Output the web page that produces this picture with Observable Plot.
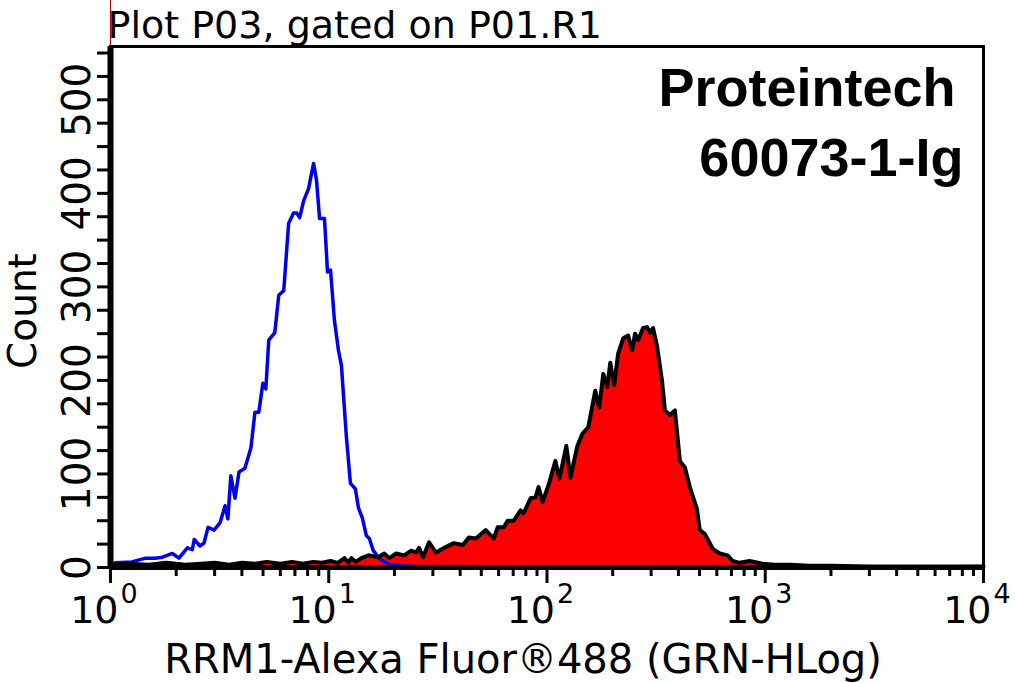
<!DOCTYPE html>
<html>
<head>
<meta charset="utf-8">
<script src="https://cdn.jsdelivr.net/npm/d3@7"></script>
<script src="https://cdn.jsdelivr.net/npm/@observablehq/plot@0.6"></script>
<style>
  html, body { margin: 0; padding: 0; background: #fff; }
  #chart svg { display: block; }
</style>
</head>
<body>
<div id="chart"></div>
<script>
// Control (isotype) histogram — blue outline
const blueX = [1.05, 1.25, 1.45, 1.6, 1.73, 1.92, 2.06, 2.25, 2.37, 2.42, 2.57, 2.68, 2.8, 2.98, 3.18, 3.35, 3.45, 3.56, 3.72, 3.88, 4.13, 4.4, 4.59, 4.78, 4.99, 5.15, 5.31, 5.66, 5.9, 6.22, 6.35, 6.55, 6.9, 7.13, 7.36, 7.67, 8.08, 8.52, 8.79, 9.08, 9.56, 9.87, 10.19, 10.62, 11.08, 11.43, 12.05, 12.57, 13.25, 13.67, 14.25, 14.87, 15.35, 16.0, 16.87, 17.4, 19, 25, 40, 100, 1000, 3000, 10000];
const blueCount = [5, 6, 10, 10, 11, 15, 10, 21, 19, 30, 23, 26, 43, 40, 48, 66, 52, 98, 74, 102, 106, 128, 166, 166, 197, 191, 243, 251, 291, 296, 325, 368, 379, 379, 374, 392, 405, 432, 414, 373, 373, 316, 318, 264, 232, 216, 139, 90, 84, 64, 53, 34, 31, 18, 11, 8, 3, 1, 1, 0, 1, 0, 1];

// RRM1 stained histogram — red fill, black outline
const redX = [1.0, 1.2, 1.5, 1.8, 2.2, 2.6, 3.0, 3.5, 4.0, 4.6, 5.2, 6.0, 6.8, 7.6, 8.5, 9.3, 10.2, 11.0, 11.8, 12.3, 12.7, 13.3, 14.11, 15.18, 16.87, 17.96, 18.93, 20.37, 22.16, 23.85, 25.13, 25.94, 27.05, 28.81, 31.0, 33.73, 37.46, 41.17, 43.85, 47.2, 52.43, 57.02, 59.47, 63.34, 66.05, 70.36, 75.7, 78.13, 84.07, 88.6, 91.46, 95.39, 101.6, 109.3, 114.0, 122.7, 128.0, 137.8, 145.2, 154.6, 166.4, 173.6, 181.0, 188.8, 194.9, 203.2, 211.9, 223.4, 235.4, 245.5, 253.3, 261.4, 275.5, 287.3, 296.5, 306.0, 319.2, 336.4, 347.1, 365.8, 385.6, 406.4, 428.3, 451.3, 485.9, 501.3, 528.4, 574.8, 618.5, 672.8, 709.0, 763.1, 847.6, 971.6, 1100, 1300, 1600, 2000, 3000, 5000, 8000, 10000];
const redCount = [3, 4, 3, 5, 3, 4, 5, 3, 5, 4, 6, 4, 6, 4, 6, 5, 7, 5, 10, 5, 10, 6, 10, 13, 11, 15, 10, 15, 13, 18, 16, 21, 11, 27, 16, 21, 26, 24, 32, 31, 40, 31, 43, 43, 50, 50, 61, 58, 74, 75, 86, 70, 88, 114, 95, 130, 96, 130, 143, 150, 189, 171, 207, 193, 219, 195, 229, 245, 248, 232, 250, 243, 256, 257, 251, 256, 237, 200, 168, 163, 168, 114, 107, 86, 63, 40, 36, 20, 15, 13, 7, 5, 7, 4, 3, 3, 2, 2, 1, 1, 1, 1];

const decades = [1, 10, 100, 1000, 10000];
const decadeExp = ["0", "1", "2", "3", "4"];
const minorTicks = [2,3,4,5,6,7,8,9].flatMap(m => [1, 10, 100, 1000].map(d => m * d));
const yTicks = d3.range(0, 551, 25);

const titleText = "Plot P03, gated on P01.R1";
const xLabel = "RRM1-Alexa Fluor®488 (GRN-HLog)";
const yLabel = "Count";
const brand1 = "Proteintech";
const brand2 = "60073-1-Ig";

const blue = blueX.map((x, i) => ({x, y: blueCount[i]}));
const red = redX.map((x, i) => ({x, y: redCount[i]}));

const font = "DejaVu Sans";

const chart = Plot.plot({
  width: 1015,
  height: 683,
  marginLeft: 110,
  marginRight: 32,
  marginTop: 46,
  marginBottom: 116,
  style: {fontFamily: font, background: "#fff", color: "#000"},
  x: {type: "log", domain: [1, 10000]},
  y: {domain: [0, 557]},
  marks: [
    Plot.areaY(red, {x: "x", y: "y", fill: "#ff0000"}),
    Plot.lineY(blue, {x: "x", y: "y", stroke: "#0000f0", strokeWidth: 3.5}),
    Plot.lineY(red, {x: "x", y: "y", stroke: "#000", strokeWidth: 4}),
    Plot.ruleX([1], {stroke: "#c00000", strokeWidth: 1, dy: -46}),
    Plot.frame({stroke: "#000", strokeWidth: 3}),
    Plot.ruleX([1], {stroke: "#000", strokeWidth: 6}),
    Plot.ruleY([0], {stroke: "#000", strokeWidth: 5}),
    Plot.axisY({ticks: yTicks, tickSize: 13, tickPadding: 8, tickRotate: -90,
      tickFormat: d => d % 100 === 0 ? String(d) : "", fontSize: 39, strokeWidth: 3, label: null}),
    Plot.axisX({ticks: decades, tickSize: 16, tickFormat: () => "", strokeWidth: 3, label: null}),
    Plot.axisX({ticks: minorTicks, tickSize: 9, tickFormat: () => "", strokeWidth: 3, label: null}),
    Plot.text(decades, {x: d => d, text: () => "10", frameAnchor: "bottom", textAnchor: "end",
      lineAnchor: "bottom", dx: 8, dy: 55, fontSize: 38}),
    Plot.text(decades, {x: d => d, text: (d, i) => decadeExp[i], frameAnchor: "bottom", textAnchor: "start",
      lineAnchor: "bottom", dx: 10, dy: 35, fontSize: 27}),
    Plot.text([titleText], {frameAnchor: "top-left", textAnchor: "start", lineAnchor: "bottom",
      dx: -3, dy: -9, fontSize: 38}),
    Plot.text([xLabel], {frameAnchor: "bottom", textAnchor: "middle", lineAnchor: "bottom",
      dx: -24, dy: 105, fontSize: 40}),
    Plot.text([yLabel], {frameAnchor: "left", textAnchor: "middle", lineAnchor: "bottom",
      rotate: -90, dx: -75, dy: 4, fontSize: 39}),
    Plot.text([brand1], {frameAnchor: "top-right", textAnchor: "end", lineAnchor: "bottom",
      dx: -28, dy: 59, fontSize: 54, fontWeight: "bold", fontFamily: "Liberation Sans"}),
    Plot.text([brand2], {frameAnchor: "top-right", textAnchor: "end", lineAnchor: "bottom",
      dx: -20, dy: 129, fontSize: 54, fontWeight: "bold", fontFamily: "Liberation Sans"})
  ]
});
document.getElementById("chart").append(chart);
</script>
</body>
</html>
